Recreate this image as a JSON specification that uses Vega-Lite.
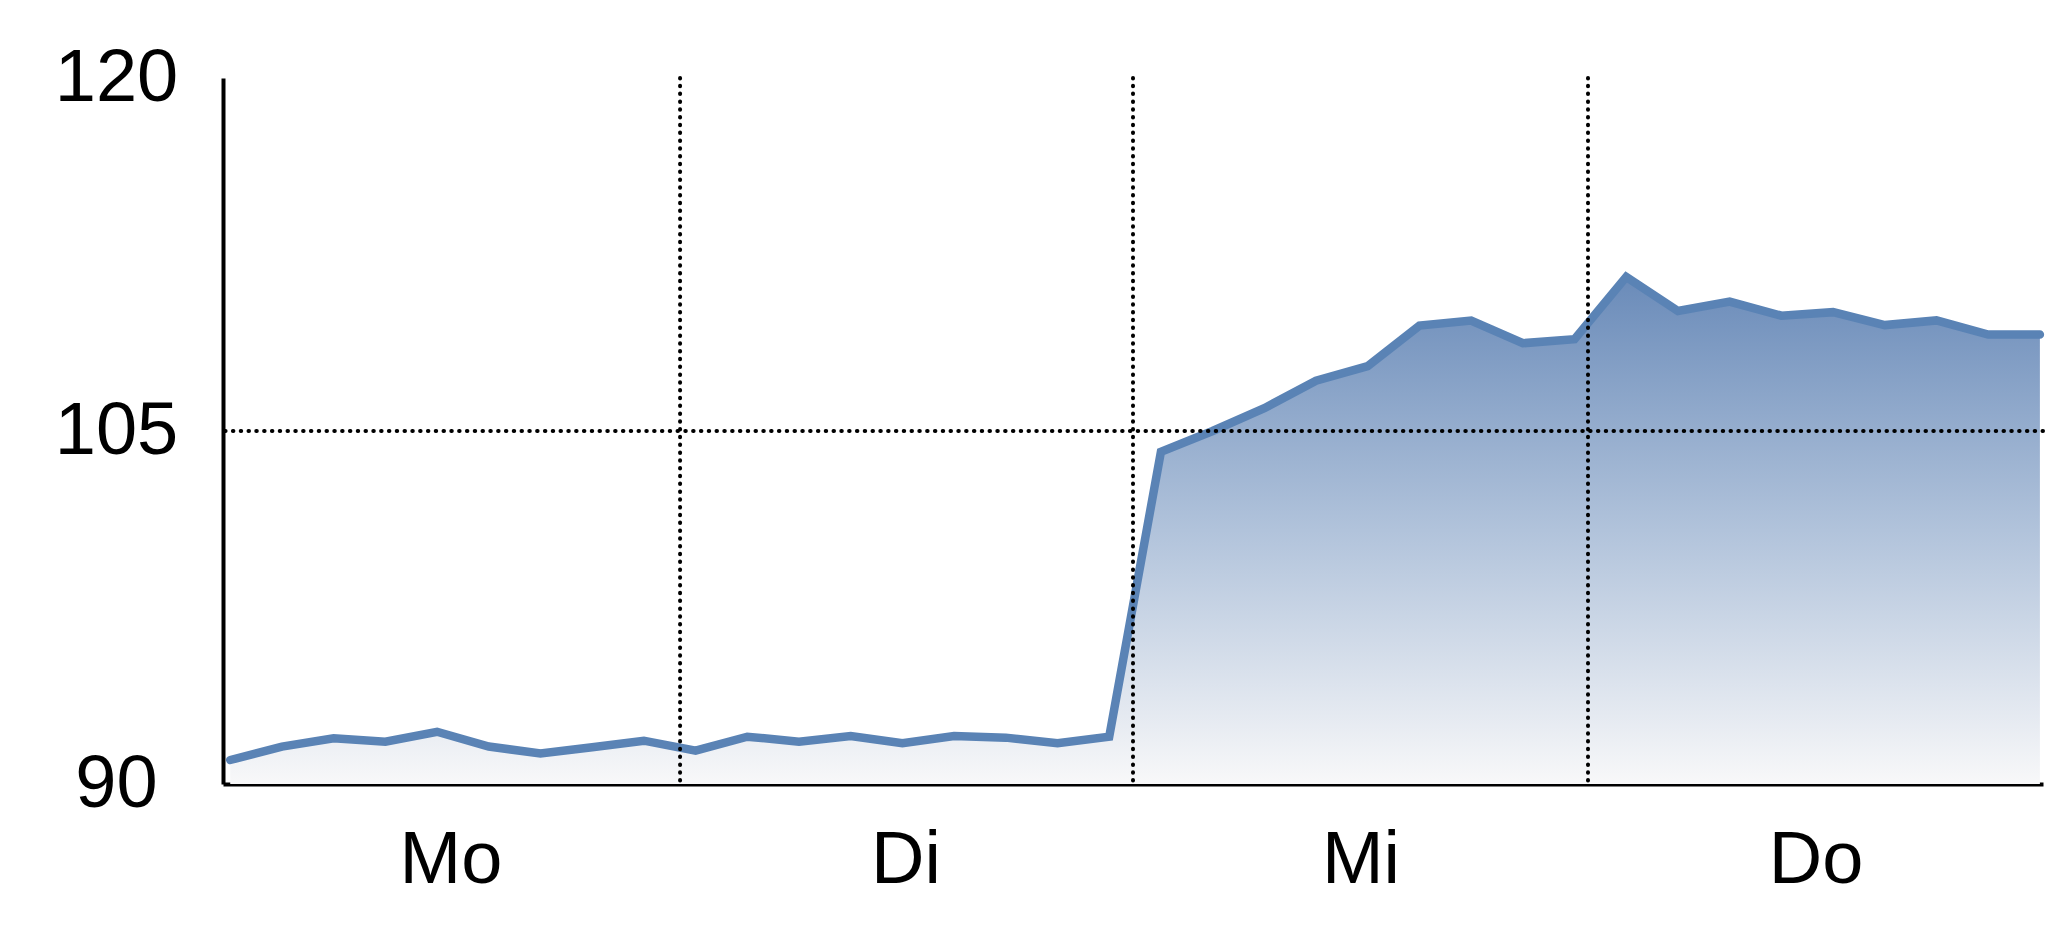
{
  "$schema": "https://vega.github.io/schema/vega-lite/v6.json",
  "width": 1820,
  "height": 706,
  "autosize": {"type": "none"},
  "padding": {"left": 223, "top": 78, "right": 5, "bottom": 153},
  "background": "white",
  "datasets": {
    "series": [
      {"i": 0, "value": 91.02}, {"i": 1, "value": 91.59}, {"i": 2, "value": 91.94},
      {"i": 3, "value": 91.8}, {"i": 4, "value": 92.22}, {"i": 5, "value": 91.59},
      {"i": 6, "value": 91.3}, {"i": 7, "value": 91.56}, {"i": 8, "value": 91.84},
      {"i": 9, "value": 91.42}, {"i": 10, "value": 92.01}, {"i": 11, "value": 91.8},
      {"i": 12, "value": 92.04}, {"i": 13, "value": 91.73}, {"i": 14, "value": 92.04},
      {"i": 15, "value": 91.97}, {"i": 16, "value": 91.73}, {"i": 17, "value": 92.01},
      {"i": 18, "value": 104.12}, {"i": 19, "value": 105.0}, {"i": 20, "value": 105.97},
      {"i": 21, "value": 107.14}, {"i": 22, "value": 107.76}, {"i": 23, "value": 109.48},
      {"i": 24, "value": 109.69}, {"i": 25, "value": 108.73}, {"i": 26, "value": 108.9},
      {"i": 27, "value": 111.55}, {"i": 28, "value": 110.1}, {"i": 29, "value": 110.5},
      {"i": 30, "value": 109.9}, {"i": 31, "value": 110.05}, {"i": 32, "value": 109.5},
      {"i": 33, "value": 109.7}, {"i": 34, "value": 109.1}, {"i": 35, "value": 109.1}
    ],
    "dayBreaks": [{"at": 8.7}, {"at": 17.46}, {"at": 26.26}],
    "refLine": [{"level": 105}]
  },
  "layer": [
    {
      "data": {"name": "series"},
      "mark": {
        "type": "area",
        "color": {
          "gradient": "linear",
          "x1": 0, "y1": 0, "x2": 0, "y2": 1,
          "stops": [
            {"offset": 0, "color": "#6a8bb9"},
            {"offset": 0.5, "color": "#b1c3db"},
            {"offset": 1, "color": "#f8f8f9"}
          ]
        }
      },
      "encoding": {
        "x": {
          "field": "i",
          "type": "quantitative",
          "scale": {"domain": [-0.14, 35.06], "nice": false, "zero": false},
          "axis": {
            "values": [4.26, 13.06, 21.86, 30.66],
            "labelExpr": "datum.value < 8 ? 'Mo' : datum.value < 17 ? 'Di' : datum.value < 26 ? 'Mi' : 'Do'",
            "title": null,
            "grid": false,
            "ticks": false,
            "tickSize": 0,
            "labelPadding": 76,
            "labelBaseline": "middle",
            "labelAlign": "center",
            "labelFlush": false,
            "labelFontSize": 74,
            "domainColor": "black",
            "domainWidth": 4
          }
        },
        "y": {
          "field": "value",
          "type": "quantitative",
          "scale": {"domain": [90, 120], "nice": false, "zero": false},
          "axis": {
            "values": [90, 105, 120],
            "title": null,
            "grid": false,
            "ticks": false,
            "tickSize": 0,
            "labelPadding": 107,
            "labelAlign": "center",
            "labelBaseline": "middle",
            "labelFlush": false,
            "labelOverlap": false,
            "labelFontSize": 74,
            "domainColor": "black",
            "domainWidth": 4
          }
        },
        "y2": {"datum": 90}
      }
    },
    {
      "data": {"name": "series"},
      "mark": {
        "type": "line",
        "color": "#5a83b5",
        "strokeWidth": 8.5,
        "strokeCap": "round",
        "strokeJoin": "miter"
      },
      "encoding": {
        "x": {"field": "i", "type": "quantitative"},
        "y": {"field": "value", "type": "quantitative"}
      }
    },
    {
      "data": {"name": "dayBreaks"},
      "mark": {
        "type": "rule",
        "color": "black",
        "strokeWidth": 4,
        "strokeCap": "round",
        "strokeDash": [0.5, 7.3]
      },
      "encoding": {
        "x": {"field": "at", "type": "quantitative"}
      }
    },
    {
      "data": {"name": "refLine"},
      "mark": {
        "type": "rule",
        "color": "black",
        "strokeWidth": 4,
        "strokeCap": "round",
        "strokeDash": [0.5, 7.3]
      },
      "encoding": {
        "y": {"field": "level", "type": "quantitative"}
      }
    }
  ],
  "config": {
    "view": {"stroke": null},
    "font": "Liberation Sans",
    "axis": {"labelColor": "black", "labelFont": "Liberation Sans"}
  }
}
